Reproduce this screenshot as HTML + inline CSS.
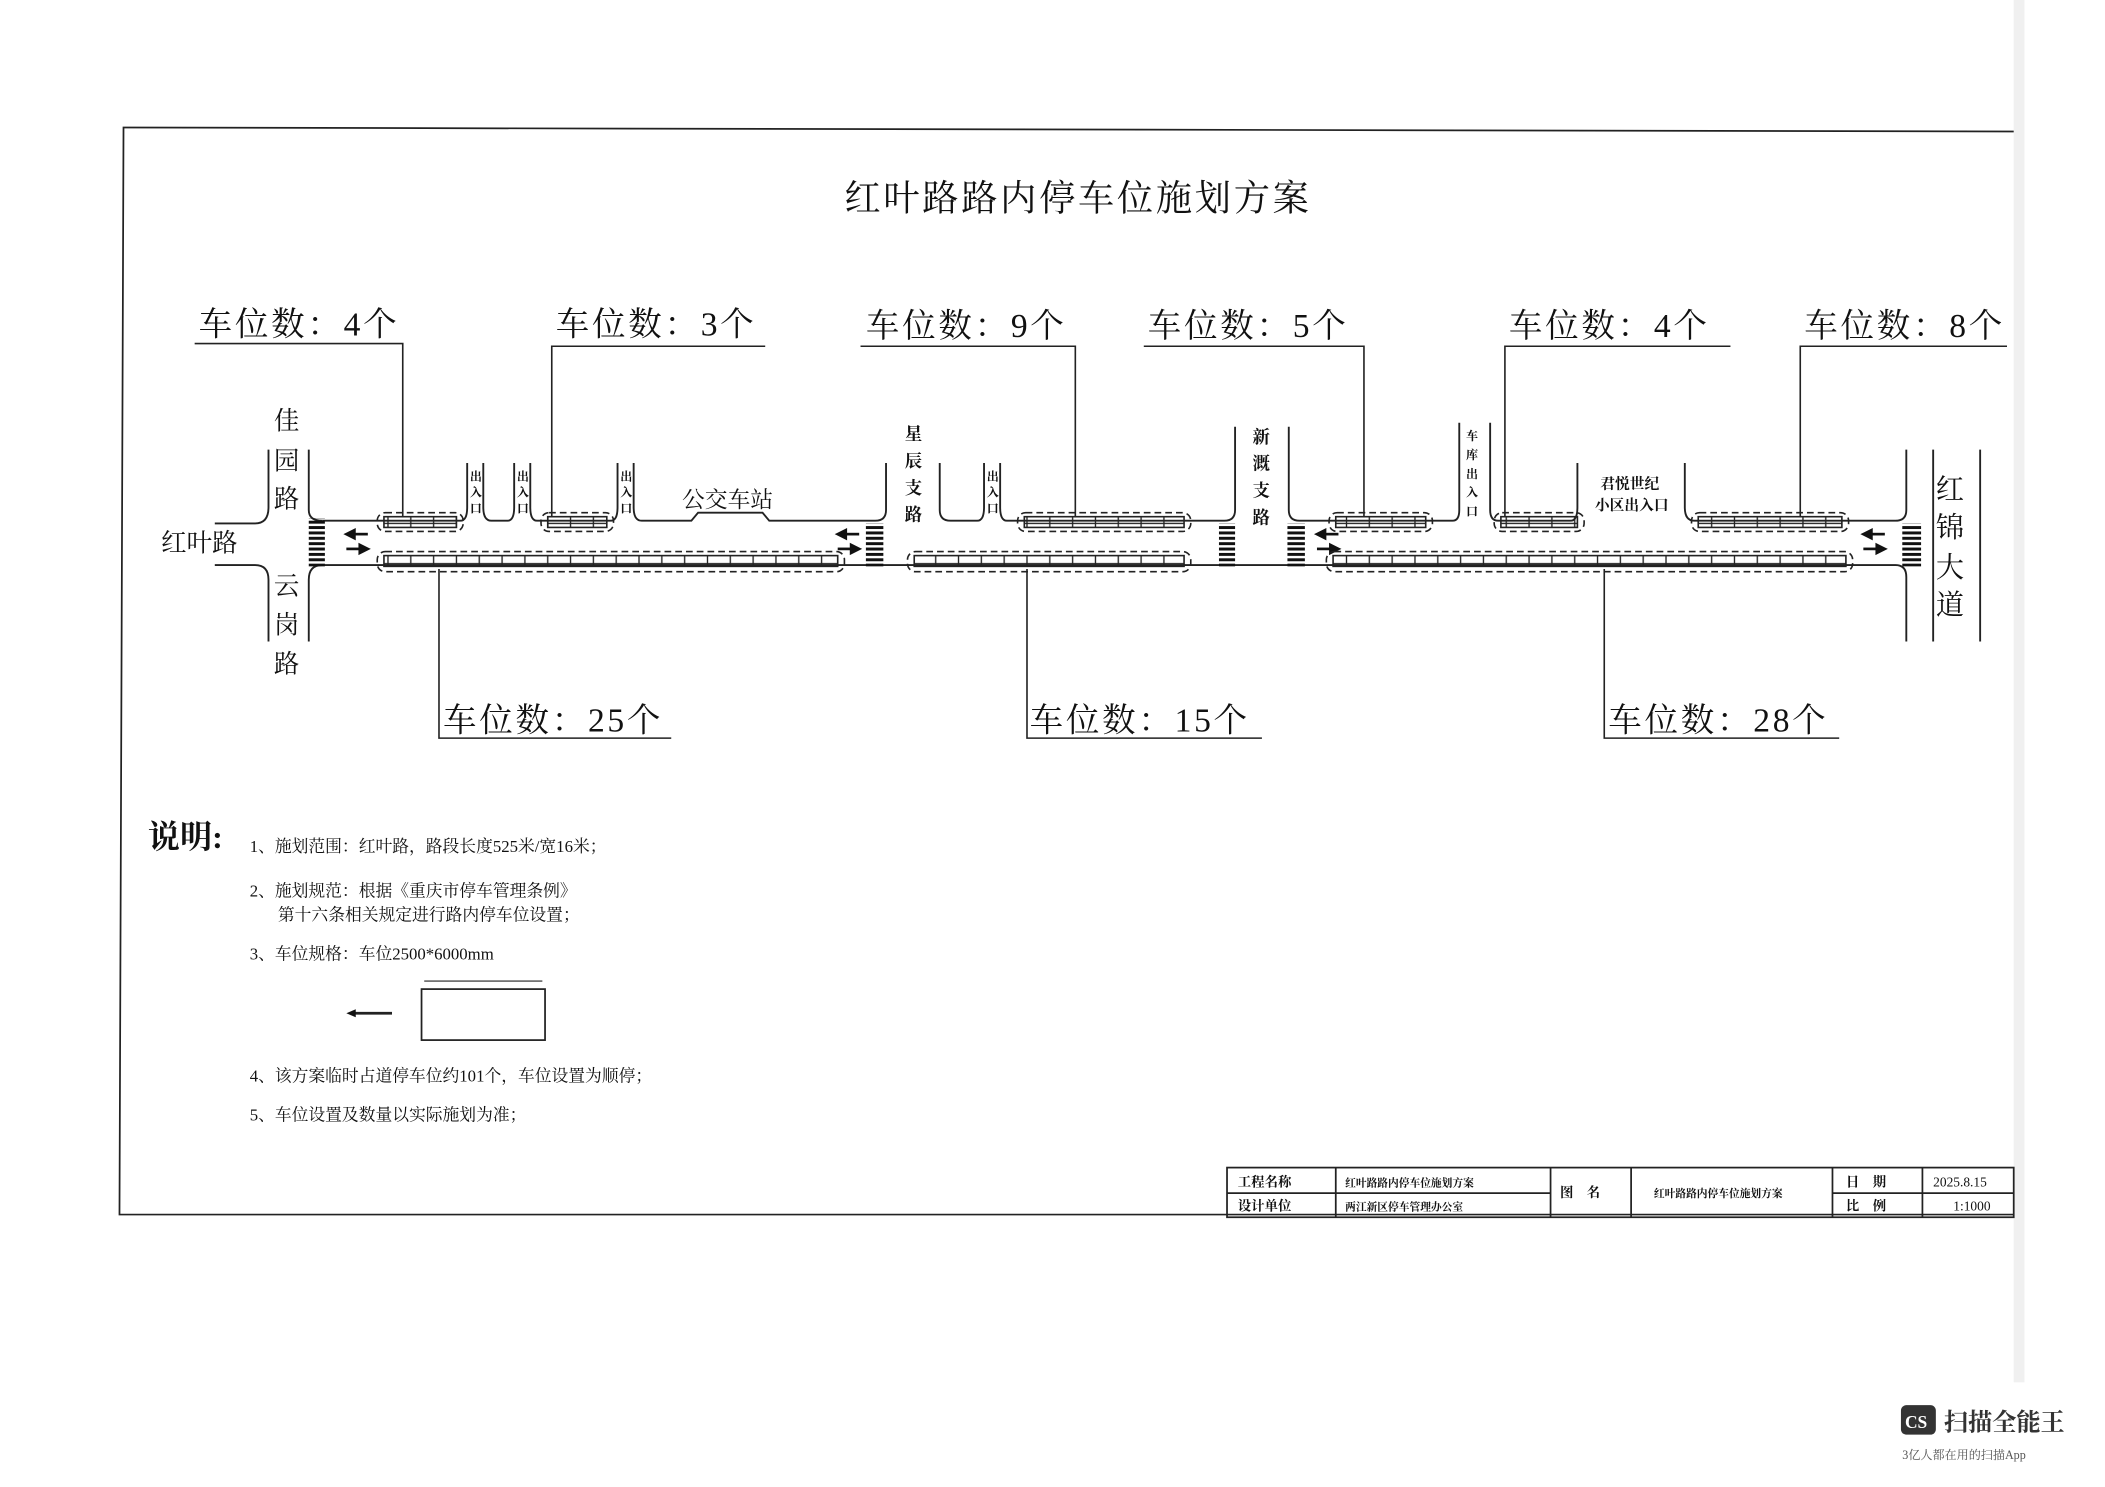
<!DOCTYPE html>
<html><head><meta charset="utf-8"><style>
html,body{margin:0;padding:0;background:#fff}
svg{display:block}
text{font-family:"Liberation Serif","Noto Serif CJK SC","Noto Sans CJK SC",serif;fill:#111}
</style></head><body>
<svg width="2105" height="1487" viewBox="0 0 1568 1108" preserveAspectRatio="none" xmlns="http://www.w3.org/2000/svg">
<rect width="1568" height="1108" fill="#fff"/>
<rect x="1500" y="0" width="8" height="1030" fill="#f0f0f0"/>
<g stroke="#222" fill="none" stroke-width="1.3">
<polyline points="1500,98 92,95 89,905 1500,905"/>
</g>
<text x="803" y="157" font-size="27" text-anchor="middle" letter-spacing="2">红叶路路内停车位施划方案</text>

<g font-size="25" letter-spacing="2">
<text x="148" y="250">车位数：4个</text>
<text x="414" y="250">车位数：3个</text>
<text x="645" y="251">车位数：9个</text>
<text x="855" y="251">车位数：5个</text>
<text x="1124" y="251">车位数：4个</text>
<text x="1344" y="251">车位数：8个</text>
<text x="330" y="545">车位数：25个</text>
<text x="767" y="545">车位数：15个</text>
<text x="1198" y="545">车位数：28个</text>
</g>
<g stroke="#222" fill="none" stroke-width="1.2">
<polyline points="145,256 300,256 300,385"/>
<polyline points="570,258 411,258 411,385"/>
<polyline points="641,258 801,258 801,385"/>
<polyline points="852,258 1016,258 1016,385"/>
<polyline points="1289,258 1121,258 1121,385"/>
<polyline points="1495,258 1341,258 1341,385"/>
<polyline points="327,424 327,550 500,550"/>
<polyline points="765,424 765,550 940,550"/>
<polyline points="1195,424 1195,550 1370,550"/>
</g>

<g stroke="#222" fill="none" stroke-width="1.4">
<path d="M160,390 H190 Q200,390 200,378 V335"/>
<path d="M230,335 V380 Q230,388 240,388"/>
<path d="M160,421 H190 Q200,421 200,432 V478"/>
<path d="M230,478 V432 Q230,421 240,421"/>
<path d="M240,388 H343 Q348,388 348,378 V345 M360,345 V378 Q360,388 366,388 H378 Q383,388 383,378 V345 M395,345 V378 Q395,388 400,388 H455 Q460,388 460,378 V345 M472,345 V378 Q472,388 478,388 H515 L520,382 H568 L573,388 H652 Q660,388 660,380 V345"/>
<path d="M700,345 V380 Q700,388 708,388 H728 Q733,388 733,378 V345 M745,345 V378 Q745,388 750,388 H912 Q920,388 920,380 V318"/>
<path d="M960,318 V380 Q960,388 968,388 H1082 Q1087,388 1087,380 V315 M1110,315 V380 Q1110,388 1116,388 H1170 Q1175,388 1175,378 V345 M1255,345 V378 Q1255,388 1262,388 H1412 Q1420,388 1420,380 V335"/>
<path d="M240,421 H1412 Q1420,421 1420,430 V478"/>
<path d="M1440,335 V478 M1475,335 V478"/>
</g>
<defs>
<pattern id="cw" width="4" height="4" patternUnits="userSpaceOnUse"><rect width="4" height="2.2" fill="#111"/></pattern>
<pattern id="ps" width="17" height="10" patternUnits="userSpaceOnUse"><rect x="0" y="0" width="17" height="10" fill="none" stroke="#222" stroke-width="1"/></pattern>
</defs>
<g>
<rect x="230" y="386" width="12" height="36" fill="url(#cw)"/>
<rect x="645" y="390" width="13" height="32" fill="url(#cw)"/>
<rect x="908" y="390" width="12" height="32" fill="url(#cw)"/>
<rect x="959" y="390" width="13" height="32" fill="url(#cw)"/>
<rect x="1417" y="390" width="14" height="32" fill="url(#cw)"/>
</g>
<g stroke="#111" stroke-width="2" fill="#111">
<g id="ar"><line x1="264" y1="398" x2="274" y2="398"/><path d="M258,398 l6,-3 v6z"/><line x1="258" y1="409" x2="268" y2="409"/><path d="M274,409 l-6,-3 v6z"/></g>
<use href="#ar" x="366"/><use href="#ar" x="723"/><use href="#ar" x="1130"/>
</g>
<g stroke="#222" fill="none" stroke-width="1.2">
<g stroke-dasharray="5,3">
<rect x="281" y="382" width="64" height="14" rx="6"/>
<rect x="403" y="382" width="54" height="14" rx="6"/>
<rect x="758" y="382" width="129" height="14" rx="6"/>
<rect x="990" y="382" width="77" height="14" rx="6"/>
<rect x="1113" y="382" width="67" height="14" rx="6"/>
<rect x="1260" y="382" width="117" height="14" rx="6"/>
<rect x="281" y="411" width="348" height="15" rx="6"/>
<rect x="676" y="411" width="211" height="15" rx="6"/>
<rect x="988" y="411" width="392" height="15" rx="6"/>
</g>
<rect x="286" y="385" width="54" height="8" fill="url(#ps)"/>
<rect x="408" y="385" width="44" height="8" fill="url(#ps)"/>
<rect x="763" y="385" width="119" height="8" fill="url(#ps)"/>
<rect x="995" y="385" width="67" height="8" fill="url(#ps)"/>
<rect x="1118" y="385" width="57" height="8" fill="url(#ps)"/>
<rect x="1265" y="385" width="107" height="8" fill="url(#ps)"/>
<rect x="286" y="414" width="338" height="8" fill="url(#ps)"/>
<rect x="681" y="414" width="201" height="8" fill="url(#ps)"/>
<rect x="993" y="414" width="382" height="8" fill="url(#ps)"/>
</g>
<g font-size="19">
<text x="120" y="411">红叶路</text>
<text x="204" y="320">佳</text><text x="204" y="350">园</text><text x="204" y="378">路</text>
<text x="204" y="443">云</text><text x="204" y="472">岗</text><text x="204" y="501">路</text>
<text x="508" y="378" font-size="17">公交车站</text>
</g>
<g font-size="21"><text x="1442" y="372">红</text><text x="1442" y="400">锦</text><text x="1442" y="430">大</text><text x="1442" y="458">道</text></g>
<g font-size="13" font-weight="bold">
<text x="674" y="328">星</text><text x="674" y="348">辰</text><text x="674" y="368">支</text><text x="674" y="388">路</text>
<text x="933" y="330">新</text><text x="933" y="350">溉</text><text x="933" y="370">支</text><text x="933" y="390">路</text>
<text x="1192" y="364" font-size="11">君悦世纪</text><text x="1188" y="380" font-size="11">小区出入口</text>
</g>
<g font-size="9" font-weight="bold">
<text x="1092" y="328">车</text><text x="1092" y="342">库</text><text x="1092" y="356">出</text><text x="1092" y="370">入</text><text x="1092" y="384">口</text>
<text x="350" y="358">出</text><text x="350" y="370">入</text><text x="350" y="382">口</text>
<text x="385" y="358">出</text><text x="385" y="370">入</text><text x="385" y="382">口</text>
<text x="462" y="358">出</text><text x="462" y="370">入</text><text x="462" y="382">口</text>
<text x="735" y="358">出</text><text x="735" y="370">入</text><text x="735" y="382">口</text>
</g>
<text x="110" y="632" font-size="24" font-weight="bold">说明:</text>
<g font-size="12.5">
<text x="186" y="635">1、施划范围：红叶路，路段长度525米/宽16米；</text>
<text x="186" y="668">2、施划规范：根据《重庆市停车管理条例》</text>
<text x="207" y="686">第十六条相关规定进行路内停车位设置；</text>
<text x="186" y="715">3、车位规格：车位2500*6000mm</text>
<text x="186" y="806">4、该方案临时占道停车位约101个，车位设置为顺停；</text>
<text x="186" y="835">5、车位设置及数量以实际施划为准；</text>
</g>
<g stroke="#222" fill="none" stroke-width="1.3">
<rect x="314" y="737" width="92" height="38"/>
<line x1="316" y1="731" x2="404" y2="731" stroke-width="0.8"/>
<line x1="264" y1="755" x2="292" y2="755" stroke-width="2"/>
</g>
<path d="M258,755 l7,-3 v6z" fill="#111"/>
<g stroke="#222" fill="none" stroke-width="1.3">
<rect x="914" y="870" width="586" height="37"/>
<line x1="914" y1="889" x2="1155" y2="889"/>
<line x1="1365" y1="889" x2="1500" y2="889"/>
<line x1="995" y1="870" x2="995" y2="907"/>
<line x1="1155" y1="870" x2="1155" y2="907"/>
<line x1="1215" y1="870" x2="1215" y2="907"/>
<line x1="1365" y1="870" x2="1365" y2="907"/>
<line x1="1432" y1="870" x2="1432" y2="907"/>
</g>
<g font-size="10" font-weight="bold">
<text x="922" y="884">工程名称</text><text x="922" y="902">设计单位</text>
<text x="1002" y="884" font-size="8">红叶路路内停车位施划方案</text>
<text x="1002" y="902" font-size="8">两江新区停车管理办公室</text>
<text x="1162" y="892">图　名</text>
<text x="1232" y="892" font-size="8">红叶路路内停车位施划方案</text>
<text x="1375" y="884">日　期</text><text x="1375" y="902">比　例</text>
<text x="1440" y="884" font-weight="normal">2025.8.15</text><text x="1455" y="902" font-weight="normal">1:1000</text>
</g>
<rect x="1416" y="1047" width="26" height="22" rx="4" fill="#333"/>
<text x="1419" y="1064" font-size="13" font-weight="bold" style="fill:#fff">CS</text>
<text x="1448" y="1066" font-size="18" font-weight="bold" style="fill:#333">扫描全能王</text>
<text x="1417" y="1087" font-size="9" style="fill:#555">3亿人都在用的扫描App</text>
</svg>
</body></html>
